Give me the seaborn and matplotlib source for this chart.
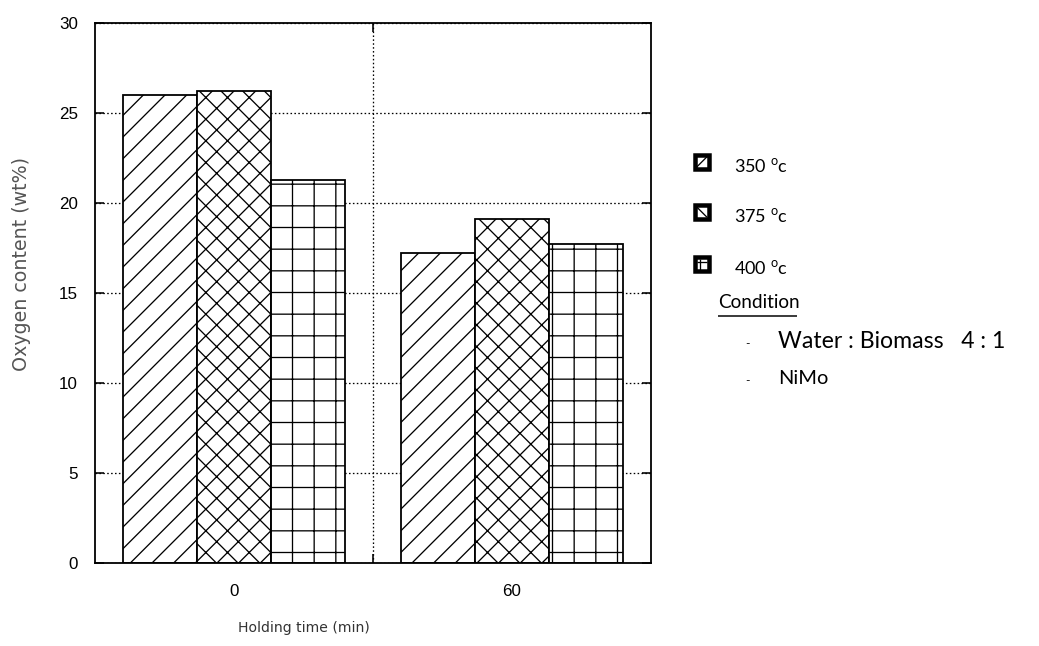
import matplotlib
matplotlib.use("Agg")
import matplotlib.pyplot as plt
import seaborn as sns
import pandas as pd
from matplotlib.patches import Rectangle
from matplotlib.lines import Line2D

# ---------------- data ----------------
holding_times = ["0", "60"]
temperatures = ["350", "375", "400"]
oxygen_350 = [26.0, 17.2]
oxygen_375 = [26.2, 19.1]
oxygen_400 = [21.3, 17.7]
y_ticks = [0, 5, 10, 15, 20, 25, 30]
condition_title = "Condition"
ratio_line = "Water : Biomass   4 : 1"
catalyst_label = "NiMo"
hatches = ["//", "xx", "+"]

DPI = 130
W, H = 1039, 646


def pt(px):
    return px * 72.0 / DPI


sns.set_theme(style="white", rc={
    "axes.edgecolor": "black", "text.color": "black",
    "xtick.color": "black", "ytick.color": "black",
    "axes.labelcolor": "black",
})
plt.rcParams['font.family'] = ['Liberation Sans', 'DejaVu Sans']
plt.rcParams['hatch.linewidth'] = pt(1.3)
plt.rcParams['hatch.color'] = 'black'
plt.rcParams['mathtext.fontset'] = 'custom'
plt.rcParams['mathtext.rm'] = 'Lato'

rows = []
for temp, vals in zip(temperatures, [oxygen_350, oxygen_375, oxygen_400]):
    for t, v in zip(holding_times, vals):
        rows.append({"Holding time": t, "Temperature": temp, "Oxygen": v})
df = pd.DataFrame(rows)

fig = plt.figure(figsize=(W / DPI, H / DPI), dpi=DPI)
ax = fig.add_axes([95 / W, (H - 563) / H, 556 / W, 540 / H])

sns.barplot(data=df, x="Holding time", y="Oxygen", hue="Temperature",
            order=holding_times, hue_order=temperatures,
            palette=["white"] * 3, saturation=1, edgecolor="black",
            linewidth=pt(1.8), errorbar=None, legend=False, ax=ax)

for cont, h in zip(ax.containers, hatches):
    for bar in cont:
        bar.set_hatch(h)
        bar.set_edgecolor("black")

ax.set_ylim(0, 30)
ax.set_yticks(y_ticks)
ax.set_xlim(-0.5, 1.5)
ax.set_xticks([0, 1])
ax.set_xticklabels(holding_times)
ax.set_xticks([0.5], minor=True)

ax.tick_params(axis='y', which='major', direction='in', length=pt(9),
               width=pt(1.6), left=True, right=True, labelsize=pt(17),
               pad=pt(17))
ax.tick_params(axis='x', which='major', length=0, labelsize=pt(17), pad=pt(21))
ax.tick_params(axis='x', which='minor', direction='in', length=pt(9),
               width=pt(1.6), top=True, bottom=True)

dot = (0, (1.2, 1.8))
ax.yaxis.grid(True, which='major', linestyle=dot, color='black', linewidth=pt(1.3))
ax.xaxis.grid(True, which='minor', linestyle=dot, color='black', linewidth=pt(1.3))
ax.xaxis.grid(False, which='major')
ax.set_axisbelow(True)
for s in ax.spines.values():
    s.set_visible(True)
    s.set_color("black")
    s.set_linewidth(pt(1.8))

ax.set_ylabel("Oxygen content (wt%)", fontsize=pt(19), color="#555555",
              family="DejaVu Sans")
ax.yaxis.set_label_coords((22 - 95) / 556, (563 - 264) / 540)
ax.yaxis.label.set_va("center")
ax.set_xlabel("Holding time (min)", fontsize=pt(14), color="#333333",
              family="DejaVu Sans")
ax.xaxis.set_label_coords((304 - 95) / 556, -(628 - 563) / 540)
ax.xaxis.label.set_va("center")


def fx(px):
    return px / W


def fy(py):
    return 1 - py / H


def fline(x0, y0, x1, y1, lw=1.3):
    fig.add_artist(Line2D([fx(x0), fx(x1)], [fy(y0), fy(y1)],
                          transform=fig.transFigure, color="black",
                          linewidth=pt(lw), solid_capstyle="butt"))


# legend (manual, right side)
leg_y = [162, 212, 264]
for i, (temp, yc) in enumerate(zip(temperatures, leg_y)):
    x0, x1 = 694.5, 709.0
    y0, y1 = yc - 7.25, yc + 7.25
    fig.add_artist(Rectangle((fx(x0), fy(y1)), (x1 - x0) / W, (y1 - y0) / H,
                             transform=fig.transFigure, facecolor="white",
                             edgecolor="black", linewidth=pt(4.5),
                             joinstyle="miter"))
    ix0, ix1, iy0, iy1 = x0 + 2, x1 - 2, y0 + 2, y1 - 2
    if i == 0:
        fline(ix0, iy1, ix1, iy0)
    elif i == 1:
        fline(ix0, iy0, ix1, iy1)
    else:
        fline(ix0 + 3, iy0, ix0 + 3, iy1 + 3)
        fline(ix0, iy0 + 3, ix1, iy0 + 3)
    fig.text(fx(734), fy(yc + 4), temp + r" $^{\mathrm{o}}$c", fontsize=pt(18),
             family="Lato", va="center", ha="left")

fig.text(fx(718), fy(302), condition_title, fontsize=pt(19), family="Lato",
         va="center", ha="left")
fline(718, 316, 797, 316, lw=1.5)
fig.text(fx(745), fy(344), "-", fontsize=pt(12), family="Lato",
         va="center", ha="left")
fig.text(fx(778), fy(342), ratio_line, fontsize=pt(23), family="Lato",
         va="center", ha="left")
fig.text(fx(745), fy(381), "-", fontsize=pt(12), family="Lato",
         va="center", ha="left")
fig.text(fx(778), fy(379), catalyst_label, fontsize=pt(20), family="Lato",
         va="center", ha="left")

fig.savefig("out.png", dpi=DPI)
